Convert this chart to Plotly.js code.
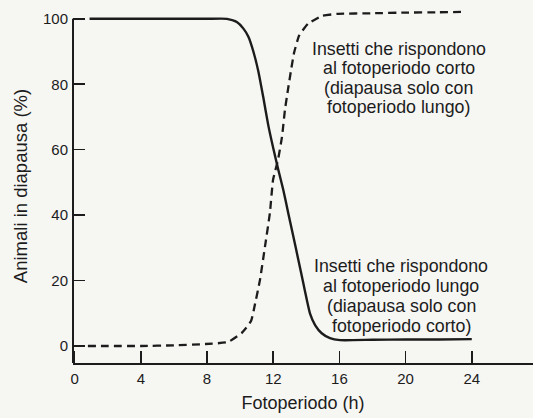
<!DOCTYPE html>
<html>
<head>
<meta charset="utf-8">
<script src="https://cdn.plot.ly/plotly-3.0.1.min.js"></script>
<style>
html,body{margin:0;padding:0;background:#f6f6f3;}
#chart{width:533px;height:418px;}
</style>
</head>
<body>
<div id="chart"></div>
<script>
// Long-day responders (solid): diapause only with short photoperiod
const xLong = [0.9, 2, 4, 6, 8, 9.2, 9.8, 10.2, 10.5, 10.8, 11.1, 11.4, 11.7, 12.0, 12.31, 12.61, 12.91, 13.22, 13.52, 13.82, 14.03, 14.22, 14.53, 14.93, 15.43, 16.04, 18, 20, 22, 24];
const yLong = [100, 100, 100, 100, 100, 100, 99, 97, 94.5, 90, 84, 76, 67.5, 60.5, 53.8, 47.7, 40.6, 33.4, 26.3, 19.2, 14.1, 10.0, 6.4, 3.9, 2.4, 1.8, 1.9, 2.0, 2.0, 2.1];

// Short-day responders (dashed): diapause only with long photoperiod
const xShort = [0.8, 2, 4, 6, 7.9, 9.27, 10.1, 10.66, 10.9, 11.2, 11.5, 11.8, 11.99, 12.29, 12.53, 12.71, 12.89, 13.08, 13.26, 13.56, 14.1, 14.95, 15.86, 18, 20, 22, 23.47];
const yShort = [0, 0, 0, 0.2, 0.6, 1.2, 4.0, 7.6, 12.8, 20.2, 30.3, 40.7, 50.8, 56.9, 63.9, 72.2, 78.3, 84.4, 89.6, 94.8, 98.5, 100.9, 101.5, 101.7, 101.9, 102.0, 102.1];

const xTicks = [0, 4, 8, 12, 16, 20, 24];
const yTicks = [0, 20, 40, 60, 80, 100];

const labelShortDay = ["Insetti che rispondono", "al fotoperiodo corto", "(diapausa solo con", "fotoperiodo lungo)"];
const labelLongDay = ["Insetti che rispondono", "al fotoperiodo lungo", "(diapausa solo con", "fotoperiodo corto)"];

const FONT = "Liberation Sans, Arial, Helvetica, sans-serif";
const INK = "#1c1c1c";

const traces = [
  {x: xLong, y: yLong, mode: "lines", line: {color: INK, width: 2.4, shape: "spline", smoothing: 0.5}, hoverinfo: "skip"},
  {x: xShort, y: yShort, mode: "lines", line: {color: INK, width: 2.3, dash: "8px,5px", shape: "spline", smoothing: 0.4}, hoverinfo: "skip"}
];

const annotations = [];
const topY = [90.8, 84.9, 78.9, 72.9];
const botY = [24.3, 18.2, 12.2, 6.1];
labelShortDay.forEach((t, i) => annotations.push({x: 19.6, y: topY[i], xref: "x", yref: "y", text: t, showarrow: false, xanchor: "center", yanchor: "middle", font: {family: FONT, size: 17.8, color: INK}}));
labelLongDay.forEach((t, i) => annotations.push({x: 19.75, y: botY[i], xref: "x", yref: "y", text: t, showarrow: false, xanchor: "center", yanchor: "middle", font: {family: FONT, size: 17.8, color: INK}}));

const layout = {
  width: 533, height: 418,
  margin: {l: 73, r: 0, t: 9, b: 55},
  paper_bgcolor: "#f6f6f3",
  plot_bgcolor: "#f6f6f3",
  showlegend: false,
  font: {family: FONT, color: INK},
  xaxis: {
    range: [-0.1, 27.7], tickvals: xTicks, ticktext: xTicks.map(String),
    ticks: "inside", ticklen: 12, tickwidth: 1.6, tickcolor: INK,
    showgrid: false, zeroline: false, showline: true, linecolor: INK, linewidth: 2,
    tickfont: {family: FONT, size: 15, color: INK}, ticklabelstandoff: 1,
    title: {text: "Fotoperiodo (h)", font: {family: FONT, size: 18, color: INK}, standoff: 10}
  },
  yaxis: {
    range: [-5.2, 103], tickvals: yTicks, ticktext: yTicks.map(String),
    ticks: "inside", ticklen: 12, tickwidth: 1.6, tickcolor: INK,
    showgrid: false, zeroline: false, showline: false,
    tickfont: {family: FONT, size: 15, color: INK}, ticklabelstandoff: 4,
    title: {text: "Animali in diapausa (%)", font: {family: FONT, size: 18.5, color: INK}, standoff: 10}
  },
  shapes: [
    {type: "line", xref: "paper", yref: "y", x0: 0, x1: 0, y0: -5.2, y1: 100, line: {color: INK, width: 2}}
  ],
  annotations: annotations
};

Plotly.newPlot("chart", traces, layout, {displayModeBar: false, staticPlot: true});
</script>
</body>
</html>
